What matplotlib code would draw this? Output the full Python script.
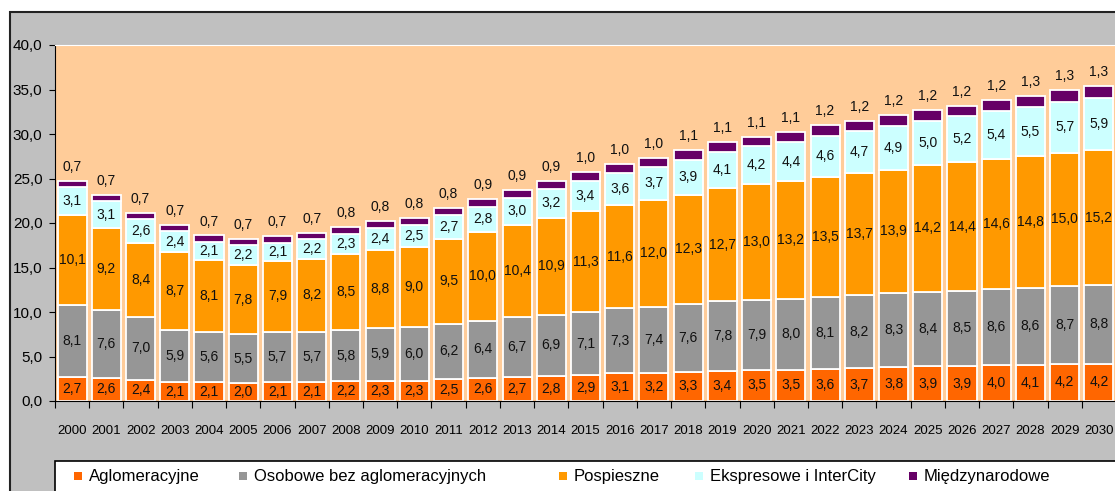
import numpy as np
import matplotlib
matplotlib.use("Agg")
import matplotlib.pyplot as plt
from matplotlib.patches import Rectangle

plt.rcParams['font.family'] = ['Liberation Sans', 'DejaVu Sans']
narrow = ['Liberation Sans Narrow', 'Liberation Sans', 'DejaVu Sans']

years = list(range(2000, 2031))

aglomeracyjne = [2.7, 2.6, 2.4, 2.1, 2.1, 2.0, 2.1, 2.1, 2.2, 2.3, 2.3, 2.5, 2.6, 2.7, 2.8, 2.9,
                 3.1, 3.2, 3.3, 3.4, 3.5, 3.5, 3.6, 3.7, 3.8, 3.9, 3.9, 4.0, 4.1, 4.2, 4.2]
osobowe = [8.1, 7.6, 7.0, 5.9, 5.6, 5.5, 5.7, 5.7, 5.8, 5.9, 6.0, 6.2, 6.4, 6.7, 6.9, 7.1,
           7.3, 7.4, 7.6, 7.8, 7.9, 8.0, 8.1, 8.2, 8.3, 8.4, 8.5, 8.6, 8.6, 8.7, 8.8]
pospieszne = [10.1, 9.2, 8.4, 8.7, 8.1, 7.8, 7.9, 8.2, 8.5, 8.8, 9.0, 9.5, 10.0, 10.4, 10.9, 11.3,
              11.6, 12.0, 12.3, 12.7, 13.0, 13.2, 13.5, 13.7, 13.9, 14.2, 14.4, 14.6, 14.8, 15.0, 15.2]
ekspresowe = [3.1, 3.1, 2.6, 2.4, 2.1, 2.2, 2.1, 2.2, 2.3, 2.4, 2.5, 2.7, 2.8, 3.0, 3.2, 3.4,
              3.6, 3.7, 3.9, 4.1, 4.2, 4.4, 4.6, 4.7, 4.9, 5.0, 5.2, 5.4, 5.5, 5.7, 5.9]
miedzynarodowe = [0.7, 0.7, 0.7, 0.7, 0.7, 0.7, 0.7, 0.7, 0.8, 0.8, 0.8, 0.8, 0.9, 0.9, 0.9, 1.0,
                  1.0, 1.0, 1.1, 1.1, 1.1, 1.1, 1.2, 1.2, 1.2, 1.2, 1.2, 1.2, 1.3, 1.3, 1.3]

series = [aglomeracyjne, osobowe, pospieszne, ekspresowe, miedzynarodowe]
names = ['Aglomeracyjne', 'Osobowe bez aglomeracyjnych', 'Pospieszne',
         'Ekspresowe i InterCity', 'Międzynarodowe']
colors = ['#FF6600', '#969696', '#FF9900', '#CCFFFF', '#660066']

def fmt(v):
    return ('%.1f' % v).replace('.', ',')

fig = plt.figure(figsize=(11.15, 4.91), dpi=100, facecolor='white')

# grey chart area with dark border
fig.patches.append(Rectangle((10 / 1115, -0.2), 1.2, 1 - 12 / 491 + 0.2, transform=fig.transFigure,
                             facecolor='#C0C0C0', edgecolor='#222222', lw=1.5, zorder=0))
# white legend box
fig.patches.append(Rectangle((55 / 1115, -0.2), 1.2, (491 - 461) / 491 + 0.2, transform=fig.transFigure,
                             facecolor='white', edgecolor='black', lw=1.2, zorder=1))

ax = fig.add_axes([55 / 1115, 90 / 491, 1061 / 1115, 356 / 491])
ax.set_zorder(5)
ax.set_facecolor('#FFCC99')

x = np.arange(len(years))
bottom = np.zeros(len(years))
for i, (vals, c) in enumerate(zip(series, colors)):
    vals = np.array(vals)
    ax.bar(x, vals, bottom=bottom, width=0.85, color=c, edgecolor='white', linewidth=1.3, zorder=2)
    for xi, b, v in zip(x, bottom, vals):
        if i == 4:
            ax.annotate(fmt(v), (xi, b + v), xytext=(0, 5), textcoords='offset points',
                        ha='center', va='bottom', fontsize=10, color='#111111', family=narrow)
        else:
            ax.text(xi, b + v / 2, fmt(v), ha='center', va='center', fontsize=10, color='#111111',
                    family=narrow, zorder=3)
    bottom = bottom + vals

ax.set_xlim(-0.5, len(years) - 0.5)
ax.set_ylim(0, 40)
ax.set_yticks(np.arange(0, 41, 5))
ax.set_yticklabels([fmt(v) for v in np.arange(0, 41, 5)], fontsize=11)
ax.set_xticks(x)
ax.set_xticklabels([str(y) for y in years], fontsize=9.5, family=narrow)
ax.set_xticks(np.arange(-0.5, len(years), 1), minor=True)
ax.tick_params(axis='x', which='major', length=0, pad=17)
ax.tick_params(axis='x', which='minor', length=5, width=0.8, direction='out')
ax.tick_params(axis='y', length=4, width=0.8, pad=5)

ax.spines['top'].set_color('white')
ax.spines['right'].set_visible(False)
ax.spines['left'].set_color('black')
ax.spines['bottom'].set_color('black')

# legend
marker_x = [78, 243, 563, 699, 913]
ly = 15 / 491
for mx, name, c in zip(marker_x, names, colors):
    fig.patches.append(Rectangle(((mx - 4) / 1115, ly - 4 / 491), 8 / 1115, 8 / 491,
                                 transform=fig.transFigure, facecolor=c, edgecolor='none', zorder=3))
    fig.text((mx + 11) / 1115, ly, name, fontsize=12, va='center', ha='left', zorder=4)

fig.savefig('out.png', dpi=100, facecolor='white')
